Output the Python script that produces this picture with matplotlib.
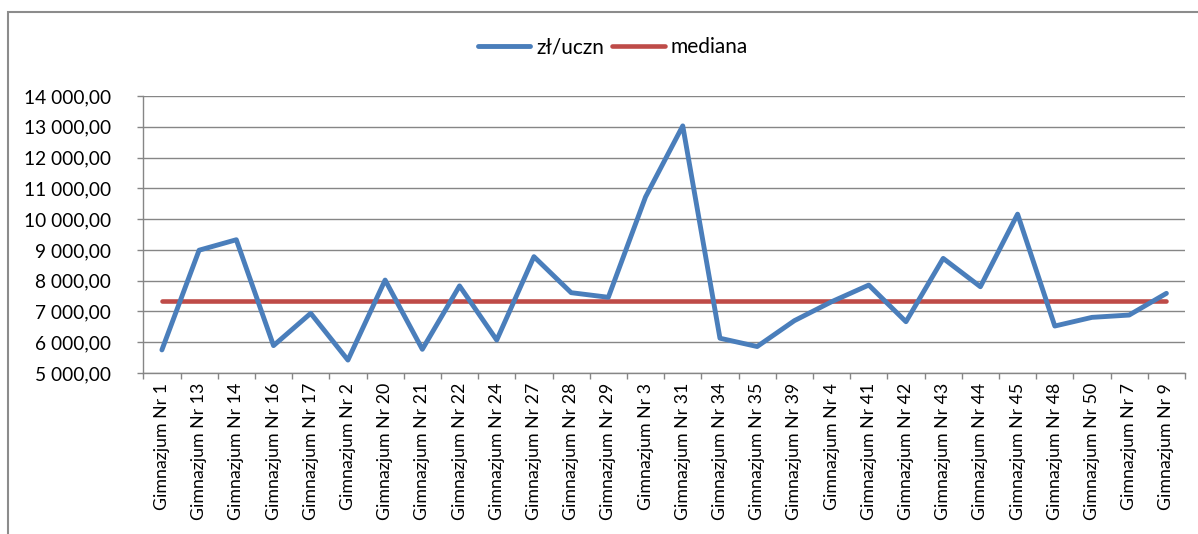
import matplotlib
matplotlib.use("Agg")
import matplotlib.pyplot as plt
from matplotlib.patches import Rectangle
from matplotlib.ticker import FixedLocator, FuncFormatter

categories = ["Gimnazjum Nr 1", "Gimnazjum Nr 13", "Gimnazjum Nr 14", "Gimnazjum Nr 16",
              "Gimnazjum Nr 17", "Gimnazjum Nr 2", "Gimnazjum Nr 20", "Gimnazjum Nr 21",
              "Gimnazjum Nr 22", "Gimnazjum Nr 24", "Gimnazjum Nr 27", "Gimnazjum Nr 28",
              "Gimnazjum Nr 29", "Gimnazjum Nr 3", "Gimnazjum Nr 31", "Gimnazjum Nr 34",
              "Gimnazjum Nr 35", "Gimnazjum Nr 39", "Gimnazjum Nr 4", "Gimnazjum Nr 41",
              "Gimnazjum Nr 42", "Gimnazjum Nr 43", "Gimnazjum Nr 44", "Gimnazjum Nr 45",
              "Gimnazjum Nr 48", "Gimnazjum Nr 50", "Gimnazjum Nr 7", "Gimnazjum Nr 9"]
zl_uczn = [5750, 8990, 9330, 5890, 6940, 5420, 8020, 5770, 7830, 6070, 8780, 7610,
           7460, 10720, 13030, 6130, 5860, 6700, 7315, 7857, 6666, 8724, 7803, 10162,
           6526, 6808, 6883, 7588]
mediana_value = 7350
mediana = [mediana_value] * len(categories)
series_names = ["zł/uczn", "mediana"]
y_ticks = list(range(5000, 14001, 1000))

W, H = 1198, 534
fig = plt.figure(figsize=(W / 100, H / 100), dpi=100)
plt.rcParams['font.family'] = ['Lato', 'DejaVu Sans']

# chart frame
fig.patches.append(Rectangle((8 / W, -0.1), 1.2, 1 - 12 / H + 0.1, transform=fig.transFigure,
                             fill=False, edgecolor='#8c8c8c', linewidth=1.5))

ax = fig.add_axes([143.3 / W, 1 - 373 / H, (1185 - 143.3) / W, (373 - 96) / H])
x = list(range(len(categories)))
ax.plot(x, zl_uczn, color='#4A7EBB', linewidth=3.5, solid_joinstyle='round',
        solid_capstyle='round', label=series_names[0], zorder=3)
ax.plot(x, mediana, color='#BE4B48', linewidth=3.3, solid_capstyle='round',
        label=series_names[1], zorder=2)

ax.set_xlim(-0.5, len(categories) - 0.5)
ax.set_ylim(5000, 14000)
ax.yaxis.set_major_locator(FixedLocator(y_ticks))
ax.yaxis.set_major_formatter(FuncFormatter(lambda v, p: f"{int(v):,}".replace(",", " ") + ",00"))
ax.grid(axis='y', color='#868686', linewidth=1.0)
ax.set_axisbelow(True)

ax.set_xticks(x)
ax.set_xticklabels(categories, rotation=90, fontsize=12.8, va='top', ha='center')
ax.set_xticks([i - 0.5 for i in range(len(categories) + 1)], minor=True)
ax.tick_params(axis='x', which='major', length=0, pad=7)
ax.tick_params(axis='x', which='minor', length=4.5, color='#868686', width=1)
ax.tick_params(axis='y', length=4.5, color='#868686', width=1, labelsize=13.8, pad=19)

for s in ['top', 'right']:
    ax.spines[s].set_visible(False)
for s in ['left', 'bottom']:
    ax.spines[s].set_color('#868686')
    ax.spines[s].set_linewidth(1.0)

leg = fig.legend(loc='center', bbox_to_anchor=(613 / W, 1 - 47 / H), ncol=2, frameon=False,
                 fontsize=15, handlelength=2.5, columnspacing=0.4, handletextpad=0.3)

fig.savefig("out.png", dpi=100)
